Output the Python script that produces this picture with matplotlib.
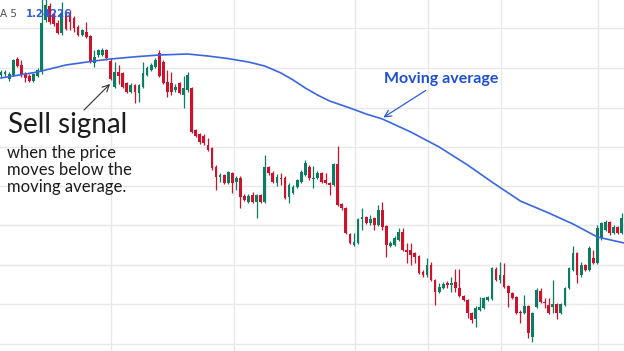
import numpy as np
import matplotlib
matplotlib.use("Agg")
import matplotlib.pyplot as plt

# candle data, price in points (1e-5)
opens = [124625, 124630, 124605, 124625, 124705, 124675, 124630, 124620, 124595, 124620,
         124640, 124900, 124970, 124930, 124885, 124835, 124930, 124930, 124910, 124865,
         124825, 124840, 124820, 124685, 124725, 124725, 124750, 124695, 124565, 124640,
         124635, 124585, 124540, 124575, 124535, 124565, 124625, 124650, 124665, 124735,
         124690, 124590, 124585, 124550, 124585, 124525, 124550, 124560, 124350, 124330,
         124320, 124275, 124260, 124165, 124115, 124125, 124085, 124135, 124090, 124110,
         124020, 123990, 124025, 123990, 124025, 123990, 124165, 124135, 124085, 124110,
         124110, 124015, 124035, 124065, 124090, 124125, 124165, 124105, 124110, 124135,
         124100, 124085, 124075, 124180, 123980, 123960, 123830, 123775, 123785, 123905,
         123915, 123885, 123910, 123875, 123950, 123870, 123770, 123775, 123800, 123840,
         123750, 123750, 123735, 123720, 123640, 123625, 123675, 123600, 123540, 123560,
         123585, 123575, 123590, 123560, 123520, 123500, 123435, 123405, 123450, 123460,
         123500, 123505, 123655, 123600, 123625, 123570, 123535, 123515, 123440, 123435,
         123470, 123315, 123465, 123545, 123490, 123475, 123465, 123480, 123435, 123475,
         123560, 123650, 123735, 123625, 123675, 123650, 123710, 123685, 123810, 123850,
         123890, 123835, 123865, 123835]
highs = [124650, 124650, 124640, 124705, 124715, 124700, 124640, 124630, 124635, 124660,
         125010, 125010, 124985, 124940, 124900, 124990, 124940, 124950, 124920, 124875,
         124855, 124890, 124825, 124750, 124755, 124760, 124755, 124710, 124690, 124675,
         124640, 124590, 124585, 124580, 124580, 124690, 124670, 124685, 124710, 124750,
         124700, 124650, 124640, 124580, 124590, 124620, 124640, 124565, 124355, 124335,
         124330, 124310, 124265, 124175, 124135, 124130, 124145, 124140, 124120, 124120,
         124030, 124030, 124040, 124030, 124030, 124225, 124170, 124145, 124130, 124135,
         124120, 124085, 124075, 124105, 124150, 124200, 124175, 124170, 124145, 124140,
         124135, 124090, 124185, 124270, 123985, 123965, 123835, 123835, 123910, 123960,
         123920, 123925, 123915, 123975, 123990, 123875, 123795, 123820, 123860, 123860,
         123785, 123785, 123740, 123725, 123650, 123710, 123690, 123605, 123585, 123590,
         123595, 123615, 123655, 123655, 123525, 123505, 123440, 123470, 123515, 123515,
         123520, 123665, 123665, 123690, 123685, 123575, 123540, 123520, 123450, 123525,
         123475, 123440, 123560, 123560, 123510, 123510, 123600, 123485, 123485, 123565,
         123665, 123770, 123740, 123690, 123680, 123770, 123750, 123875, 123890, 123900,
         123895, 123875, 123870, 123935]
lows = [124615, 124620, 124595, 124620, 124665, 124615, 124590, 124590, 124590, 124615,
        124630, 124890, 124880, 124870, 124830, 124825, 124850, 124850, 124840, 124820,
        124820, 124810, 124685, 124665, 124715, 124720, 124700, 124600, 124560, 124580,
        124560, 124535, 124535, 124485, 124490, 124560, 124620, 124645, 124660, 124615,
        124580, 124515, 124525, 124540, 124530, 124460, 124540, 124335, 124315, 124280,
        124275, 124245, 124150, 124050, 124090, 124080, 124080, 124035, 124050, 123960,
        123995, 123985, 123985, 123910, 123985, 123985, 124125, 124085, 124070, 124075,
        124005, 123985, 124030, 124060, 124085, 124120, 124100, 124060, 124105, 124085,
        124080, 124025, 124070, 123970, 123950, 123830, 123780, 123770, 123780, 123850,
        123880, 123875, 123850, 123870, 123850, 123715, 123765, 123770, 123795, 123745,
        123685, 123675, 123685, 123630, 123615, 123615, 123595, 123475, 123535, 123555,
        123560, 123540, 123540, 123515, 123495, 123410, 123385, 123365, 123445, 123455,
        123495, 123500, 123595, 123585, 123560, 123465, 123505, 123430, 123385, 123430,
        123310, 123290, 123460, 123485, 123460, 123430, 123435, 123405, 123430, 123470,
        123555, 123645, 123585, 123615, 123645, 123645, 123680, 123680, 123800, 123845,
        123825, 123830, 123830, 123830]
closes = [124640, 124640, 124630, 124700, 124670, 124625, 124610, 124595, 124630, 124650,
          124885, 124975, 124890, 124880, 124835, 124935, 124855, 124890, 124860, 124825,
          124850, 124815, 124690, 124715, 124750, 124750, 124710, 124605, 124640, 124620,
          124565, 124540, 124575, 124540, 124575, 124635, 124660, 124675, 124700, 124620,
          124585, 124540, 124540, 124565, 124535, 124560, 124625, 124340, 124320, 124290,
          124285, 124250, 124160, 124115, 124125, 124085, 124140, 124085, 124110, 124015,
          124000, 124020, 123990, 124025, 123990, 124165, 124135, 124090, 124115, 124105,
          124010, 124075, 124065, 124100, 124140, 124185, 124110, 124110, 124135, 124090,
          124085, 124075, 124180, 123975, 123960, 123835, 123785, 123790, 123905, 123915,
          123885, 123905, 123875, 123950, 123865, 123775, 123785, 123810, 123840, 123750,
          123740, 123725, 123715, 123635, 123625, 123675, 123600, 123540, 123565, 123580,
          123575, 123585, 123560, 123520, 123500, 123435, 123400, 123460, 123465, 123510,
          123515, 123660, 123600, 123625, 123565, 123535, 123510, 123435, 123435, 123470,
          123335, 123435, 123550, 123490, 123485, 123435, 123480, 123435, 123480, 123560,
          123660, 123735, 123625, 123675, 123650, 123760, 123685, 123860, 123885, 123890,
          123835, 123865, 123835, 123910]

# moving average (candle index, points)
ma_idx = [0, 9, 16, 23, 27, 33, 39, 46, 51, 56, 61, 65, 69, 72, 75, 78, 81, 86, 90, 94,
          101, 108, 115, 121, 128, 135, 141, 147, 153.6]
ma_val = [124610, 124640, 124675, 124695, 124705, 124716, 124725, 124730, 124720, 124707,
          124690, 124670, 124635, 124600, 124560, 124525, 124495, 124460, 124430, 124405,
          124340, 124265, 124175, 124090, 123995, 123935, 123880, 123815, 123785]

grid_y = [124860, 124660, 124460, 124265, 124070, 123875, 123675, 123480, 123280]
grid_x = [27.1, 57.4, 87.3, 105.2, 123.2, 147.2]

up_col = "#0b7d62"
down_col = "#d0112b"

o = np.array(opens) / 1e5
h = np.array(highs) / 1e5
l = np.array(lows) / 1e5
c = np.array(closes) / 1e5
x = np.arange(len(o))

fig = plt.figure(figsize=(6.24, 3.51), dpi=100)
ax = fig.add_axes([0, 0, 1, 1])
ax.set_xlim(-0.25, 153.56)
ax.set_ylim(1.23245, 1.25)
ax.axis("off")

for gy in grid_y:
    ax.axhline(gy / 1e5, color="#e8e8e8", lw=1.0, zorder=0)
for gx in grid_x:
    ax.axvline(gx, color="#e8e8e8", lw=1.0, zorder=0)

cols = np.where(c >= o, up_col, down_col)
ax.vlines(x, l, h, colors=cols, lw=0.9, zorder=2)
body = np.maximum(np.abs(c - o), 0.00003)
ax.bar(x, body, bottom=np.minimum(o, c), width=0.68, color=cols, zorder=3, linewidth=0)

ax.plot(ma_idx, np.array(ma_val) / 1e5, color="#3a66e0", lw=1.2, zorder=4)

def fx(px):
    return px / 624

def fy(py):
    return 1 - py / 351

tfont = "Lato"
ax.text(fx(8), fy(125), "Sell signal", transform=ax.transAxes, fontsize=20,
        family=tfont, color="#1c1c1c", va="center", ha="left")
ax.text(fx(7), fy(170), "when the price\nmoves below the\nmoving average.", transform=ax.transAxes,
        fontsize=12, family=tfont, color="#1c1c1c", va="center", ha="left", linespacing=1.08)
ax.annotate("", xy=(fx(112), fy(82)), xytext=(fx(82), fy(112)),
            xycoords="axes fraction", textcoords="axes fraction",
            arrowprops=dict(arrowstyle="->", color="#333333", lw=0.8, mutation_scale=12))

ax.text(fx(441), fy(79), "Moving average", transform=ax.transAxes, fontsize=11.5,
        family=tfont, color="#1d4fd0", va="center", ha="center", fontweight="bold")
ax.annotate("", xy=(fx(381), fy(119)), xytext=(fx(428), fy(89)),
            xycoords="axes fraction", textcoords="axes fraction",
            arrowprops=dict(arrowstyle="->", color="#2b5be0", lw=0.9, mutation_scale=12))

ax.text(fx(0), fy(14), "A 5", transform=ax.transAxes, fontsize=7.5, color="#555555",
        va="center", ha="left")
ax.text(fx(26), fy(14), "1.24226", transform=ax.transAxes, fontsize=7.3, color="#2f5fe0",
        va="center", ha="left", fontweight="bold")

fig.savefig("out.png", dpi=100)
